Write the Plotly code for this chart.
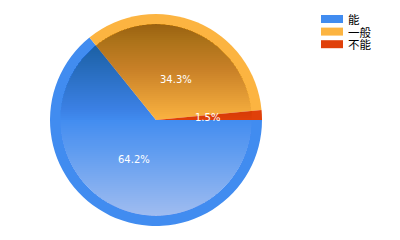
import math
import plotly.graph_objects as go

labels = ["能", "一般", "不能"]
values = [64.2, 34.3, 1.5]
colors = ["#418CF0", "#FCB441", "#E0400A"]

W, H = 400, 240
CX, CY, R = 156, 120, 106
RI = 96  # inner gradient radius

def px(x):
    return x / W

def py(y):
    return 1 - y / H

fig = go.Figure()
fig.add_trace(go.Pie(
    labels=labels, values=values, sort=False, direction="clockwise", rotation=90,
    marker=dict(colors=colors, line=dict(width=0)),
    textinfo="none", hoverinfo="label+percent", showlegend=False,
    domain=dict(x=[px(CX - R), px(CX + R)], y=[py(CY + R), py(CY - R)]),
))

# gradient overlay (decoration): nested circle segments
def segment_path(y_cut, upper):
    dy = y_cut - CY
    a0 = math.asin(max(-1, min(1, dy / RI)))
    n = 48
    if upper:
        start, end = math.pi - a0, 2 * math.pi + a0
    else:
        start, end = a0, math.pi - a0
    pts = []
    for k in range(n + 1):
        t = start + (end - start) * k / n
        pts.append((CX + RI * math.cos(t), CY + RI * math.sin(t)))
    return "M " + " L ".join(f"{px(x):.5f},{py(y):.5f}" for x, y in pts) + " Z"

def linear_alphas(n, amax):
    out = []
    prev = 0.0
    for j in range(1, n + 1):
        o = amax * j / n
        out.append((o - prev) / (1 - prev))
        prev = o
    return out

shapes = []
step = 2
n = int(RI / step)
up = linear_alphas(n, 0.34)
dn = linear_alphas(n, 0.56)
for j in range(n):
    shapes.append(dict(type="path", path=segment_path(CY - j * step, True), xref="paper", yref="paper",
                       fillcolor="black", opacity=up[j], line=dict(width=0), layer="above"))
    shapes.append(dict(type="path", path=segment_path(CY + j * step, False), xref="paper", yref="paper",
                       fillcolor="white", opacity=dn[j], line=dict(width=0), layer="above"))

# percent labels computed from data
total = sum(values)
annotations = []
cum = 0
for v in values:
    m = (cum + v / 2) / total
    th = 2 * math.pi * m
    lx = CX + 0.49 * R * math.cos(th)
    ly = CY + 0.49 * R * math.sin(th)
    annotations.append(dict(x=px(lx), y=py(ly), xref="paper", yref="paper",
                            text=f"{v / total * 100:.1f}%", showarrow=False,
                            font=dict(family="DejaVu Sans", size=10, color="white")))
    cum += v

# legend drawn manually (swatch rectangles + text)
LX0, LX1, LY0, LDY = 321, 343, 19, 12.6
for i, (lab, col) in enumerate(zip(labels, colors)):
    yc = LY0 + i * LDY
    shapes.append(dict(type="rect", xref="paper", yref="paper",
                       x0=px(LX0), x1=px(LX1), y0=py(yc - 4), y1=py(yc + 4),
                       fillcolor=col, line=dict(width=0)))
    annotations.append(dict(x=px(347), y=py(yc), xref="paper", yref="paper",
                            xanchor="left", yanchor="middle", text=lab, showarrow=False,
                            height=12, borderpad=0,
                            font=dict(family="Noto Sans CJK SC", size=11.5, color="black")))

fig.update_layout(
    width=W, height=H, margin=dict(l=0, r=0, t=0, b=0),
    paper_bgcolor="white", plot_bgcolor="white",
    shapes=shapes, annotations=annotations, showlegend=False,
)
fig.write_html("out.html")
